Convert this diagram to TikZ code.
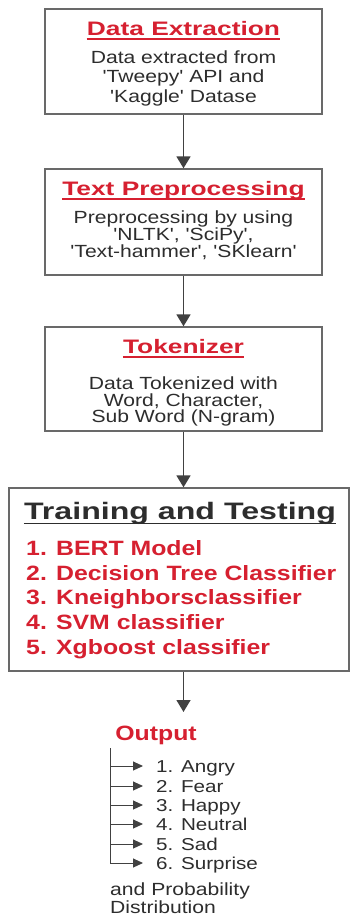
\documentclass[tikz,border=0pt]{standalone}
\usepackage{fontspec}
\setmainfont{Liberation Sans}[FakeStretch=1.2,Ligatures=TeXOff]
\newfontfamily\titlefont{Liberation Sans}[FakeStretch=1.35]
\usetikzlibrary{arrows.meta}
\definecolor{tred}{RGB}{214,32,48}
\definecolor{tgray}{RGB}{45,45,45}
\definecolor{bgray}{RGB}{105,105,105}
\definecolor{agray}{RGB}{65,65,65}
\begin{document}
\begin{tikzpicture}[x=1pt,y=-1pt,
  box/.style={draw=bgray,line width=1.3pt,fill=white,inner sep=0pt},
  boxtitle/.style={font=\titlefont\fontsize{19.5}{22}\selectfont\bfseries,text=tred,anchor=base,inner sep=0pt},
  bigtitle/.style={font=\titlefont\fontsize{23.8}{26}\selectfont\bfseries,text=tgray,anchor=base,inner sep=0pt},
  body/.style={font=\fontsize{17.6}{20}\selectfont,text=tgray,anchor=base,inner sep=0pt},
  item/.style={font=\fontsize{20.7}{24}\selectfont\bfseries,text=tred,anchor=base west,inner sep=0pt},
  listtext/.style={font=\fontsize{17.2}{20}\selectfont,text=tgray,anchor=base west,inner sep=0pt},
  uline/.style={line width=1.2pt},
  arr/.style={draw=agray,line width=1.5pt,-{Triangle[length=12pt,width=14pt]}},
  sarr/.style={draw=agray,line width=1pt,-{Triangle[length=10pt,width=9pt]}},
  vline/.style={draw=agray,line width=1pt}]
\useasboundingbox (0,0) rectangle (351,919);
% boxes
\node[box,minimum width=277pt,minimum height=105pt] (b1) at (183.5,61.5) {};
\node[box,minimum width=277pt,minimum height=106pt] (b2) at (183.5,222) {};
\node[box,minimum width=277pt,minimum height=104pt] (b3) at (183.5,379) {};
\node[box,minimum width=340pt,minimum height=183pt] (b4) at (179,579.5) {};
% box 1
\node[boxtitle] (t1) at (183.5,35) {Data Extraction};
\node[body] (b1a) at (183.5,63) {Data extracted from};
\node[body] (b1b) at (183.5,82) {'Tweepy' API and};
\node[body] (b1c) at (183.5,102) {'Kaggle' Datase};
% box 2
\node[boxtitle] (t2) at (183.5,195) {Text Preprocessing};
\node[body] (b2a) at (183.5,223) {Preprocessing by using};
\node[body] (b2b) at (183.5,240) {'NLTK', 'SciPy',};
\node[body] (b2c) at (183.5,257) {'Text-hammer', 'SKlearn'};
% box 3
\node[boxtitle] (t3) at (183.5,353) {Tokenizer};
\node[body] (b3a) at (183.5,389) {Data Tokenized with};
\node[body] (b3b) at (183.5,406) {Word, Character,};
\node[body] (b3c) at (183.5,422) {Sub Word (N-gram)};
% box 4
\node[bigtitle] (t4) at (180,519) {Training and Testing};
\node[item] (i1) at (26,555) {1. BERT Model};
\node[item] (i2) at (26,580) {2. Decision Tree Classifier};
\node[item] (i3) at (26,604) {3. Kneighborsclassifier};
\node[item] (i4) at (26,629) {4. SVM classifier};
\node[item] (i5) at (26,654) {5. Xgboost classifier};
% underlines
\foreach \t in {t1,t2,t3} \draw[uline,tred] ([yshift=-4pt]\t.base west) -- ([yshift=-4pt]\t.base east);
\draw[uline,tgray] ([yshift=-4.5pt]t4.base west) -- ([yshift=-4.5pt]t4.base east);
% output
\coordinate (otip) at (183.5,712);
\node[item,anchor=base] (out) at (156,740) {Output};
\coordinate (vtop) at (110,748);
\coordinate (a1) at (110,766);
\coordinate (a2) at (110,786);
\coordinate (a3) at (110,805);
\coordinate (a4) at (110,824);
\coordinate (a5) at (110,844);
\coordinate (a6) at (110,863);
\node[listtext] (l1) at (156,772) {1. Angry};
\node[listtext] (l2) at (156,792) {2. Fear};
\node[listtext] (l3) at (156,811) {3. Happy};
\node[listtext] (l4) at (156,830) {4. Neutral};
\node[listtext] (l5) at (156,850) {5. Sad};
\node[listtext] (l6) at (156,869) {6. Surprise};
\node[listtext,font=\fontsize{17.6}{20}\selectfont] (p1) at (110,895) {and Probability};
\node[listtext,font=\fontsize{17.6}{20}\selectfont] (p2) at (110,913) {Distribution};
% connectors
\draw[arr] (b1.south) -- (b2.north);
\draw[arr] (b2.south) -- (b3.north);
\draw[arr] (b3.south) -- (b3.south |- b4.north);
\draw[arr] (b4.south -| b3.south) -- (otip);
\draw[vline] (vtop) -- (a6);
\foreach \k in {1,...,6} \draw[sarr,shorten >=13pt] (a\k) -- (a\k -| l\k.west);
\end{tikzpicture}
\end{document}
